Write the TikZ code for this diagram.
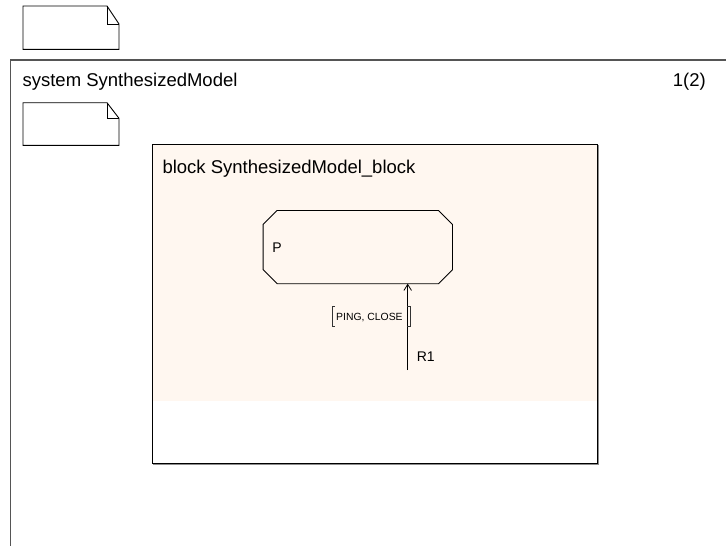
\documentclass[tikz,border=0pt]{standalone}
\usepackage{fontspec}
\setmainfont{Liberation Sans}
\usetikzlibrary{arrows.meta}
\definecolor{blockfill}{HTML}{FFF7F0}
\definecolor{framegray}{HTML}{555555}
\tikzset{
  titletext/.style={inner sep=0pt, font=\fontsize{18.5}{22}\selectfont},
  smalltext/.style={inner sep=0pt, font=\fontsize{14}{17}\selectfont},
  signaltext/.style={inner sep=0pt, font=\fontsize{10.4}{12}\selectfont},
  notebox/.style={draw=black, line width=0.9pt, fill=white},
  chanline/.style={line width=0.8pt, -{Straight Barb[length=6pt,width=7.6pt,line width=0.8pt]}},
  bracket/.style={line width=0.8pt, draw=black!80},
}
\begin{document}
\begin{tikzpicture}[x=1pt, y=-1pt]
  \useasboundingbox (0,0) rectangle (726,546);
  \fill[white] (0,0) rectangle (726,546);

  % comment symbol above the frame
  \draw[notebox] (23,6) -- (107,6) -- (119,24) -- (119,49.3) -- (23,49.3) -- cycle;
  \draw[line width=0.9pt] (107,6) -- (107,24) -- (119,24);

  % system frame (open towards the right and the bottom)
  \draw[line width=1.2pt, draw=framegray] (726,60) -- (10.8,60) -- (10.8,546);
  \node[titletext, anchor=base west] (systitle) at (22.4,86.7) {system SynthesizedModel};
  \node[titletext, anchor=base east] (pagenum) at (706,86.7) {1(2)};

  % comment symbol inside the frame
  \draw[notebox] (23,102.7) -- (107,102.7) -- (119,118.3) -- (119,145.3) -- (23,145.3) -- cycle;
  \draw[line width=0.9pt] (107,102.7) -- (107,118.3) -- (119,118.3);

  % block
  \fill[blockfill] (152,144.3) rectangle (597.3,400.7);
  \draw[line width=1.6pt, draw=black!45] (152.6,463.9) -- (597.9,463.9) -- (597.9,144.9);
  \draw[line width=0.9pt] (152,144.3) rectangle (597.3,463.3);
  \node[titletext, anchor=base west] (blktitle) at (162.3,173.3) {block SynthesizedModel\_block};

  % process P (chamfered box)
  \node[minimum width=189pt, minimum height=72.8pt, inner sep=0pt] (P) at (357.8,247.1) {};
  \draw[line width=0.9pt, fill=blockfill]
    ([xshift=14pt]P.north west) -- ([xshift=-14pt]P.north east)
    -- ([yshift=-14pt]P.north east) -- ([yshift=14pt]P.south east)
    -- ([xshift=-14pt]P.south east) -- ([xshift=14pt]P.south west)
    -- ([yshift=14pt]P.south west) -- ([yshift=-14pt]P.north west) -- cycle;
  \node[smalltext, anchor=base west] (Plabel) at (272.2,252.3) {P};

  % channel R1 into P
  \coordinate (r1end) at (407.7,370);
  \draw[chanline] (r1end) -- (r1end |- P.south);
  \node[smalltext, anchor=base west] (R1) at (416.6,361) {R1};

  % signal list
  \node[signaltext, anchor=base west] (sigs) at (336,320) {PING, CLOSE};
  \draw[bracket] (335.2,306.8) -- (332.4,306.8) -- (332.4,326) -- (335.2,326);
  \draw[bracket] (407.2,306.8) -- (410.8,306.8) -- (410.8,326) -- (407.2,326);
\end{tikzpicture}
\end{document}
